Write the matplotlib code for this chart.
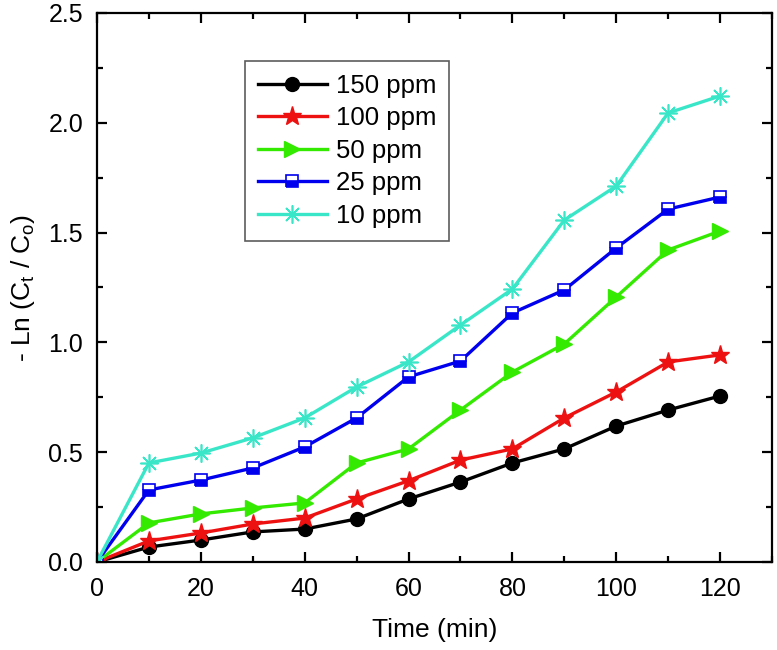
import matplotlib
matplotlib.use("Agg")
import matplotlib.pyplot as plt
from matplotlib.ticker import MultipleLocator

plt.rcParams['font.family'] = ['Liberation Sans', 'DejaVu Sans']
plt.rcParams['mathtext.fontset'] = 'custom'
plt.rcParams['mathtext.rm'] = 'Liberation Sans'
plt.rcParams['mathtext.it'] = 'Liberation Sans'

time = [0, 10, 20, 30, 40, 50, 60, 70, 80, 90, 100, 110, 120]
ppm150 = [0, 0.068, 0.100, 0.137, 0.150, 0.196, 0.287, 0.364, 0.451, 0.515, 0.619, 0.692, 0.756]
ppm100 = [0, 0.096, 0.132, 0.173, 0.200, 0.287, 0.370, 0.464, 0.515, 0.656, 0.774, 0.911, 0.943]
ppm50 = [0, 0.178, 0.219, 0.246, 0.269, 0.451, 0.515, 0.692, 0.865, 0.993, 1.207, 1.421, 1.507]
ppm25 = [0, 0.328, 0.373, 0.428, 0.524, 0.656, 0.843, 0.915, 1.134, 1.239, 1.430, 1.607, 1.662]
ppm10 = [0, 0.451, 0.496, 0.565, 0.656, 0.797, 0.911, 1.079, 1.243, 1.557, 1.712, 2.045, 2.122]
labels = ['150 ppm', '100 ppm', '50 ppm', '25 ppm', '10 ppm']

fig = plt.figure(figsize=(7.77, 6.5), dpi=100)
ax = fig.add_axes([0.1248, 0.1354, 0.8688, 0.8446])

lw = 2.4
ax.plot(time, ppm150, color='black', lw=lw, marker='o', ms=10, mfc='black', mec='black', label=labels[0])
ax.plot(time, ppm100, color='#ee1111', lw=lw, marker='*', ms=14, mfc='#ee1111', mec='#ee1111', label=labels[1])
ax.plot(time, ppm50, color='#33ea00', lw=lw, marker='>', ms=12, mfc='#33ea00', mec='#33ea00', label=labels[2])
ax.plot(time, ppm25, color='#0000ee', lw=lw, marker='s', ms=9, fillstyle='bottom', mfc='#0000ee',
        markerfacecoloralt='white', mec='#0000ee', mew=1.2, label=labels[3])
ax.plot(time, ppm10, color='#3ae6c8', lw=lw, marker=(8, 2, 0), ms=13, mec='#3ae6c8', mew=1.2, label=labels[4])

ax.set_xlim(0, 130)
ax.set_ylim(0, 2.5)
ax.xaxis.set_major_locator(MultipleLocator(20))
ax.xaxis.set_minor_locator(MultipleLocator(10))
ax.yaxis.set_major_locator(MultipleLocator(0.5))
ax.yaxis.set_minor_locator(MultipleLocator(0.25))
ax.yaxis.set_major_formatter(matplotlib.ticker.FormatStrFormatter('%.1f'))

for s in ax.spines.values():
    s.set_linewidth(1.6)
ax.tick_params(which='both', direction='in', top=True, right=True, width=1.6, labelsize=18)
ax.tick_params(axis='x', which='both', pad=11)
ax.tick_params(axis='y', which='both', pad=10)
ax.tick_params(which='major', length=7)
ax.tick_params(which='minor', length=4)

ax.set_xlabel('Time (min)', fontsize=19, labelpad=12)
ax.set_ylabel(r'- Ln (C$_\mathregular{t}$ / C$_\mathregular{o}$)', fontsize=19, labelpad=8)

leg = ax.legend(loc='upper left', bbox_to_anchor=(0.219, 0.9126), fontsize=18.5, frameon=True,
                fancybox=False, handlelength=2.7, labelspacing=0.33, borderpad=0.5,
                handletextpad=0.35, borderaxespad=0)
leg.get_frame().set_edgecolor('#333333')
leg.get_frame().set_linewidth(1.2)

fig.savefig('out.png', dpi=100)
